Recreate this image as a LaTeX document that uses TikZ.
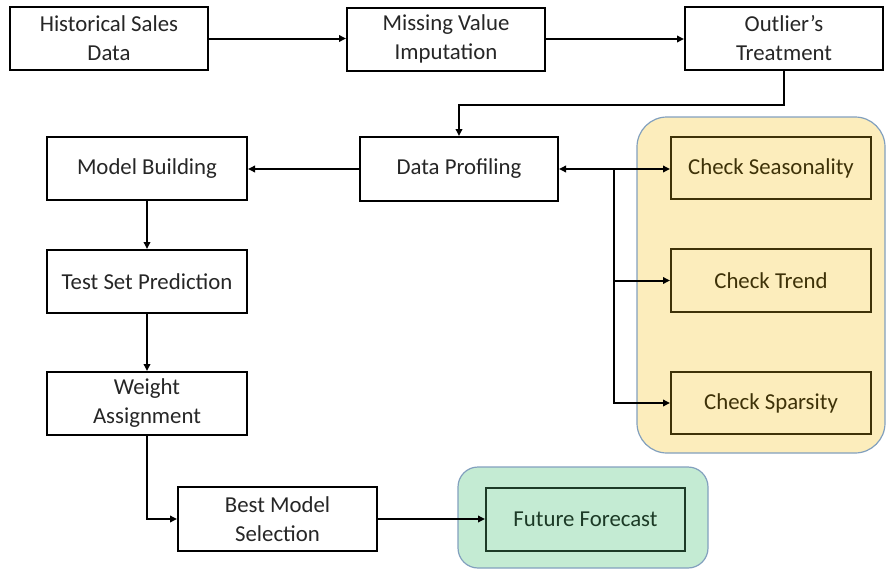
\documentclass[tikz,border=0pt]{standalone}
\usepackage{fontspec}
\setmainfont{Carlito}
\usetikzlibrary{arrows.meta}
\definecolor{panelY}{RGB}{252,237,188}
\definecolor{panelG}{RGB}{196,235,211}
\definecolor{panelEdge}{RGB}{130,160,190}
\definecolor{ytext}{RGB}{62,50,8}
\definecolor{gtext}{RGB}{28,58,38}
\tikzset{
  box/.style={draw=black, line width=2pt, fill=white, minimum width=198pt, minimum height=63pt,
    align=center, inner sep=2pt, font=\fontsize{22.8}{29}\selectfont, text=black!85,
    execute at begin node={\vspace*{2pt}}},
  ybox/.style={box, fill=panelY, draw=ytext, text=ytext},
  gbox/.style={box, fill=panelG, draw=gtext, text=gtext},
  arr/.style={line width=2pt, -{Triangle[length=7pt,width=6.5pt]}},
  panel/.style={line width=1.2pt, draw=panelEdge}
}
\begin{document}
\begin{tikzpicture}[x=1pt,y=-1pt]
\useasboundingbox (0,0) rectangle (886,570);
% panels
\filldraw[panel, fill=panelY, rounded corners=30pt] (637,117) rectangle (885,453);
\filldraw[panel, fill=panelG, rounded corners=20pt] (458,467) rectangle (708,568);
% nodes
\node[box] (hsd) at (109,38.5) {Historical Sales\\Data};
\node[box] (mvi) at (446,39) {Missing Value\\Imputation};
\node[box] (ot) at (784,38.5) {Outlier’s\\Treatment};
\node[box, minimum height=64pt] (dp) at (459,169) {Data Profiling};
\node[box, minimum width=200pt] (mb) at (147,168.5) {Model Building};
\node[box, minimum width=200pt] (tsp) at (147,281.5) {Test Set Prediction};
\node[box, minimum width=200pt] (wa) at (147,403.5) {Weight\\Assignment};
\node[box, minimum width=199pt, minimum height=64pt] (bms) at (277.5,519) {Best Model\\Selection};
\node[gbox, minimum width=199pt] (ff) at (585.5,519.5) {Future Forecast};
\node[ybox, minimum width=200pt, minimum height=62pt] (cs) at (771,168) {Check Seasonality};
\node[ybox, minimum width=200pt] (ct) at (771,280.5) {Check Trend};
\node[ybox, minimum width=200pt, minimum height=62pt] (csp) at (771,403) {Check Sparsity};
\coordinate (br) at (614,169);
% connectors
\draw[arr] (hsd.east) -- (hsd.east -| mvi.west);
\draw[arr] (mvi.east) -- (mvi.east -| ot.west);
\draw[arr] (ot.south) -- ++(0,33.5) -| (dp.north);
\draw[arr] (dp.west) -- (dp.west -| mb.east);
\draw[arr] (mb.south) -- (tsp.north);
\draw[arr] (tsp.south) -- (wa.north);
\draw[arr] (wa.south) |- (bms.west);
\draw[arr] (bms.east) -- (bms.east -| ff.west);
\draw[arr] (br) -- (dp.east);
\draw[arr] (br) -- (br -| cs.west);
\draw[arr] (br) |- (ct.west);
\draw[arr] (br) |- (csp.west);
\end{tikzpicture}
\end{document}
